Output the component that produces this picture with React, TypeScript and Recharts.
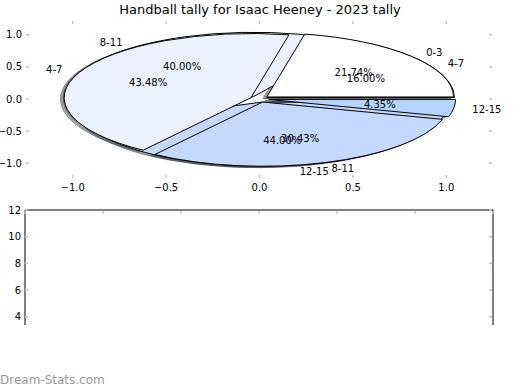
import React from 'react';
import { Line, LineChart, Pie, PieChart, Scatter, ScatterChart, XAxis, YAxis } from 'recharts';

// outer pie (drawn on top)
const slicesA = ['0-3', '4-7', '8-11', '12-15'];
const tallyA = [5, 10, 7, 1];
// inner pie (drawn underneath)
const slicesB = ['4-7', '8-11', '12-15'];
const tallyB = [4, 10, 11];

const pieXTicks = [-1, -0.5, 0, 0.5, 1];
const pieYTicks = [-1, -0.5, 0, 0.5, 1];
// lower panel is cropped, only these ticks are on screen
const lowerYTicks = [4, 6, 8, 10, 12];
const lowerXTicks = [0, 1, 2, 3, 4, 5, 6];

const COLORS = ['#ffffff', '#ebf1fe', '#c5d8fe', '#b4d3fe'];
const TICK_GRAY = '#c4c4c4';
const FONT = '"DejaVu Sans", sans-serif';
const EXPLODE = 0.05;
const RAD = Math.PI / 180;

// top panel layout
const W = 520;
const TOP_H = 200;
const TOP = 20;
const LEFT = 26;
const RIGHT = 27;
const XAX_H = 22;
const XDOM: [number, number] = [-1.25, 1.25];
const YDOM: [number, number] = [-1.23, 1.23];
const plotW = W - LEFT - RIGHT;
const plotH = TOP_H - TOP - XAX_H;
const pxX = plotW / (XDOM[1] - XDOM[0]);
const pxY = plotH / (YDOM[1] - YDOM[0]);
const pieCx = LEFT + pxX * (0 - XDOM[0]);
const pieCy = TOP + pxY * (YDOM[1] - 0);
const yRatio = pxY / pxX;

const toRows = (names: string[], vals: number[]) => names.map((name, i) => ({ name, value: vals[i], fill: COLORS[i] }));
const dataA = toRows(slicesA, tallyA);
const dataB = toRows(slicesB, tallyB);

// helper rows so the axes have something to scale (never drawn)
const pieAxisRows = pieXTicks.map((x, i) => ({ x, y: pieYTicks[i] }));
const lowerAxisRows = lowerXTicks.map((x, i) => ({ x, y: lowerYTicks[i % lowerYTicks.length] }));

const fmt = (v: number) => v.toFixed(1).replace('-', '\u2212');

function wedgeOrigin(p: any) {
  const mid = ((p.startAngle + p.endAngle) / 2) * RAD;
  const rx = p.outerRadius;
  const ry = p.outerRadius * yRatio;
  return { mid, rx, ry, ox: p.cx + EXPLODE * rx * Math.cos(mid), oy: p.cy - EXPLODE * ry * Math.sin(mid) };
}

function wedgePath(p: any, dx = 0, dy = 0) {
  const { rx, ry, ox, oy } = wedgeOrigin(p);
  const cx = ox + dx;
  const cy = oy + dy;
  const s = p.startAngle * RAD;
  const e = p.endAngle * RAD;
  const x1 = cx + rx * Math.cos(s);
  const y1 = cy - ry * Math.sin(s);
  const x2 = cx + rx * Math.cos(e);
  const y2 = cy - ry * Math.sin(e);
  const large = p.endAngle - p.startAngle > 180 ? 1 : 0;
  return `M${cx},${cy} L${x1},${y1} A${rx},${ry} 0 ${large} 0 ${x2},${y2} Z`;
}

const hexShade = (hex: string) => {
  const n = parseInt(hex.slice(1), 16);
  const r = Math.round(((n >> 16) & 255) * 0.3);
  const g = Math.round(((n >> 8) & 255) * 0.3);
  const b = Math.round((n & 255) * 0.3);
  return `rgb(${r},${g},${b})`;
};

const wedgeShape = (p: any) => <path d={wedgePath(p)} fill={p.payload?.fill ?? p.fill} stroke="#000" strokeWidth={1} strokeLinejoin="round" />;

const shadowShape = (p: any) => {
  const f = hexShade(p.payload?.fill ?? p.fill);
  return <path d={wedgePath(p, -0.02 * p.outerRadius, 0.02 * p.outerRadius * yRatio)} fill={f} stroke={f} fillOpacity={0.5} strokeOpacity={0.5} />;
};

const noShape = () => <g />;
const hiddenDot = () => <g />;

const pieLabel = (p: any) => {
  const { mid, rx, ry, ox, oy } = wedgeOrigin(p);
  const lx = ox + 1.1 * rx * Math.cos(mid);
  const ly = oy - 1.1 * ry * Math.sin(mid);
  const px = ox + 0.6 * rx * Math.cos(mid);
  const py = oy - 0.6 * ry * Math.sin(mid);
  return (
    <g>
      <text x={lx} y={ly} textAnchor={lx > p.cx ? 'start' : 'end'} dominantBaseline="central" fontSize={10} fontFamily={FONT} fill="#000">
        {p.name}
      </text>
      <text x={px} y={py} textAnchor="middle" dominantBaseline="central" fontSize={10} fontFamily={FONT} fill="#000">
        {(p.percent * 100).toFixed(2)}%
      </text>
    </g>
  );
};

const bottomTick = ({ x, y, payload }: any) => (
  <g>
    <line x1={x} x2={x} y1={y} y2={y - 3} stroke={TICK_GRAY} strokeWidth={1.5} />
    <text x={x} y={y + 9} textAnchor="middle" dominantBaseline="central" fontSize={10} fontFamily={FONT} fill="#000">
      {fmt(payload.value)}
    </text>
  </g>
);
const topMark = ({ x, y }: any) => <line x1={x} x2={x} y1={y + 1} y2={y + 4} stroke={TICK_GRAY} strokeWidth={1.5} />;
const rightMark = ({ x, y }: any) => <line x1={x - 1} x2={x - 4} y1={y} y2={y} stroke={TICK_GRAY} strokeWidth={1.5} />;
const leftTick = (f: (v: number) => string) => ({ x, y, payload }: any) => (
  <g>
    <line x1={x} x2={x + 3} y1={y} y2={y} stroke={TICK_GRAY} strokeWidth={1.5} />
    <text x={x - 4} y={y} textAnchor="end" dominantBaseline="central" fontSize={10} fontFamily={FONT} fill="#000">
      {f(payload.value)}
    </text>
  </g>
);

const pieProps = {
  dataKey: 'value',
  nameKey: 'name',
  cx: pieCx,
  cy: pieCy,
  outerRadius: pxX,
  startAngle: 0,
  endAngle: 360,
  isAnimationActive: false,
  labelLine: false,
};

const blackLine = { stroke: '#000', strokeWidth: 1 };

export default function App() {
  return (
    <div style={{ position: 'absolute', left: 0, top: 0, width: W, height: 390, background: '#fff', fontFamily: FONT }}>
      <div style={{ position: 'absolute', top: 2, left: 0, width: W, textAlign: 'center', fontSize: 13, lineHeight: '16px' }}>
        Handball tally for Isaac Heeney - 2023 tally
      </div>

      <div style={{ position: 'absolute', top: 0, left: 0 }}>
        <ScatterChart width={W} height={TOP_H} margin={{ top: TOP - 1, right: RIGHT - 1, bottom: 0, left: 0 }}>
          <XAxis xAxisId="b" type="number" dataKey="x" domain={XDOM} ticks={pieXTicks} interval={0} height={XAX_H}
            allowDataOverflow axisLine={false} tickLine={false} tickSize={0} tickMargin={0} tick={bottomTick} />
          <XAxis xAxisId="t" orientation="top" type="number" dataKey="x" domain={XDOM} ticks={pieXTicks} interval={0} height={1}
            allowDataOverflow axisLine={false} tickLine={false} tickSize={0} tickMargin={0} tick={topMark} />
          <YAxis yAxisId="l" type="number" dataKey="y" domain={YDOM} ticks={pieYTicks} interval={0} width={LEFT}
            allowDataOverflow axisLine={false} tickLine={false} tickSize={0} tickMargin={0} tick={leftTick(fmt)} />
          <YAxis yAxisId="r" orientation="right" type="number" dataKey="y" domain={YDOM} ticks={pieYTicks} interval={0} width={1}
            allowDataOverflow axisLine={false} tickLine={false} tickSize={0} tickMargin={0} tick={rightMark} />
          <Scatter xAxisId="b" yAxisId="l" data={pieAxisRows} shape={hiddenDot} isAnimationActive={false} />
          <Scatter xAxisId="t" yAxisId="r" data={pieAxisRows} shape={hiddenDot} isAnimationActive={false} />
        </ScatterChart>
      </div>

      <div style={{ position: 'absolute', top: 0, left: 0 }}>
        <PieChart width={W} height={TOP_H} margin={{ top: 0, right: 0, bottom: 0, left: 0 }}>
          <Pie {...pieProps} data={dataB} shape={shadowShape} />
          <Pie {...pieProps} data={dataA} shape={shadowShape} />
          <Pie {...pieProps} data={dataB} shape={wedgeShape} />
          <Pie {...pieProps} data={dataA} shape={wedgeShape} />
          <Pie {...pieProps} data={dataB} shape={noShape} label={pieLabel} />
          <Pie {...pieProps} data={dataA} shape={noShape} label={pieLabel} />
        </PieChart>
      </div>

      <div style={{ position: 'absolute', top: 200, left: 0, width: W, height: 125, overflow: 'hidden' }}>
        <LineChart width={W} height={200} data={lowerAxisRows} margin={{ top: 9, right: RIGHT - 1, bottom: 30, left: 0 }}>
          <XAxis xAxisId="t" orientation="top" type="number" dataKey="x" domain={[0, 6]} ticks={lowerXTicks} interval={0} height={1}
            axisLine={blackLine} tickLine={false} tickSize={0} tickMargin={0} tick={topMark} />
          <YAxis yAxisId="l" type="number" domain={[0, 12]} ticks={lowerYTicks} interval={0} width={25}
            axisLine={blackLine} tickLine={false} tickSize={0} tickMargin={0} tick={leftTick((v) => String(v))} />
          <YAxis yAxisId="r" orientation="right" type="number" domain={[0, 12]} ticks={lowerYTicks} interval={0} width={1}
            axisLine={blackLine} tickLine={false} tickSize={0} tickMargin={0} tick={rightMark} />
          <Line xAxisId="t" yAxisId="l" dataKey="y" stroke="none" dot={false} activeDot={false} isAnimationActive={false} />
          <Line xAxisId="t" yAxisId="r" dataKey="y" stroke="none" dot={false} activeDot={false} isAnimationActive={false} />
        </LineChart>
      </div>

      <div style={{ position: 'absolute', left: 0, top: 372, fontSize: 12, color: '#999', lineHeight: '16px' }}>
        Dream-Stats.com
      </div>
    </div>
  );
}
